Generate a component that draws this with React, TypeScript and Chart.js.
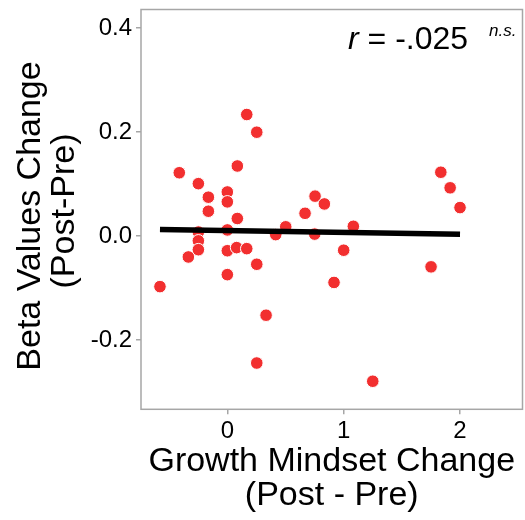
import React, { useEffect, useRef } from "react";
import { Chart, registerables } from "chart.js";

Chart.register(...registerables);

const mindsetChange: number[] = [
  0.167, 0.253, -0.413, 0.086, -0.249, -0.163, 0, 0, -0.163, 1.835, 1.915, 2.0,
  0.754, 0.834, 0.668, 0.086, 0, -0.249, -0.249, -0.249, -0.335, 0, 0.08, 0.167,
  0.253, 0, -0.579, 0.333, 0.253, 1.25, 0.502, 0.416, 0.751, 1.083, 1.0, 0.917, 1.751,
];
const betaChange: number[] = [
  0.234, 0.2, 0.122, 0.135, 0.101, 0.075, 0.085, 0.066, 0.048, 0.123, 0.093, 0.055,
  0.077, 0.062, 0.044, 0.034, 0.012, 0.008, -0.009, -0.026, -0.04, -0.028, -0.022, -0.024,
  -0.054, -0.074, -0.097, -0.152, -0.244, -0.279, 0.018, 0.003, 0.004, 0.019, -0.027, -0.089, -0.059,
];
const fitX: number[] = [-0.579, 2.0];
const fitY: number[] = [0.013, 0.0035];
const xTicks: number[] = [0, 1, 2];
const yTicks: number[] = [-0.2, 0.0, 0.2, 0.4];
const xTitle: string[] = ["Growth Mindset Change", "(Post - Pre)"];
const yTitle: string[] = ["Beta Values Change", "(Post-Pre)"];
const rLabel = "r";
const rValue = " = -.025";
const sigLabel = "n.s.";

const FONT = "'Liberation Sans', Arial, Helvetica, sans-serif";

export default function App() {
  const ref = useRef<HTMLCanvasElement | null>(null);
  useEffect(() => {
    if (!ref.current) return;
    const framePlugin = {
      id: "frame",
      afterDatasetsDraw(chart: any) {
        const { ctx, chartArea } = chart;
        ctx.save();
        ctx.strokeStyle = "#a6a6a6";
        ctx.lineWidth = 1.5;
        ctx.strokeRect(chartArea.left, chartArea.top, chartArea.right - chartArea.left, chartArea.bottom - chartArea.top);
        ctx.fillStyle = "#000";
        ctx.textBaseline = "alphabetic";
        ctx.textAlign = "left";
        ctx.font = `italic 32px ${FONT}`;
        const x0 = 348;
        ctx.fillText(rLabel, x0, 49);
        const rw = ctx.measureText(rLabel).width;
        ctx.font = `32px ${FONT}`;
        ctx.fillText(rValue, x0 + rw, 49);
        ctx.font = `italic 17px ${FONT}`;
        ctx.fillText(sigLabel, 489, 36);
        // y axis title (two lines, rotated)
        ctx.font = `34px ${FONT}`;
        ctx.textAlign = "center";
        ctx.textBaseline = "middle";
        const yCenters = [216, 211];
        const xCenters = [30.5, 64.5];
        yTitle.forEach((t, i) => {
          ctx.save();
          ctx.translate(xCenters[i], yCenters[i]);
          ctx.rotate(-Math.PI / 2);
          ctx.fillText(t, 0, 0);
          ctx.restore();
        });
        ctx.restore();
      },
    };
    const chart = new Chart(ref.current, {
      type: "scatter",
      data: {
        datasets: [
          {
            type: "line",
            data: fitX.map((x, i) => ({ x, y: fitY[i] })),
            borderColor: "#000",
            borderWidth: 5.5,
            pointRadius: 0,
            fill: false,
            order: 0,
          } as any,
          {
            type: "scatter",
            data: mindsetChange.map((x, i) => ({ x, y: betaChange[i] })),
            backgroundColor: "#f22f2f",
            borderColor: "#ffffff",
            borderWidth: 1,
            pointRadius: 6.3,
            order: 1,
          },
        ],
      },
      plugins: [framePlugin],
      options: {
        responsive: false,
        animation: false,
        events: [],
        layout: { autoPadding: false, padding: { top: 9.5, right: 2.5, left: 0, bottom: 0 } },
        plugins: { legend: { display: false }, tooltip: { enabled: false } },
        scales: {
          x: {
            type: "linear",
            min: -0.742,
            max: 2.537,
            afterBuildTicks: (s: any) => {
              s.ticks = xTicks.map((v) => ({ value: v }));
            },
            afterFit: (s: any) => {
              s.height = 110.7;
              s.paddingLeft = 0;
              s.paddingRight = 0;
            },
            grid: { drawOnChartArea: false, drawTicks: true, tickLength: 5, color: "#a6a6a6", lineWidth: 1.5 },
            border: { display: false },
            ticks: {
              padding: 3,
              color: "#000",
              font: { family: FONT, size: 24 },
              callback: (v: any) => String(v),
              maxRotation: 0,
            },
            title: {
              display: true,
              text: xTitle,
              color: "#000",
              font: { family: FONT, size: 34, lineHeight: 1.0 },
              padding: { top: 0, bottom: 7 },
            },
          },
          y: {
            type: "linear",
            min: -0.333,
            max: 0.436,
            afterBuildTicks: (s: any) => {
              s.ticks = yTicks.map((v) => ({ value: v }));
            },
            afterFit: (s: any) => {
              s.width = 141;
              s.paddingTop = 0;
              s.paddingBottom = 0;
            },
            grid: { drawOnChartArea: false, drawTicks: true, tickLength: 5, color: "#a6a6a6", lineWidth: 1.5 },
            border: { display: false },
            ticks: {
              padding: 4,
              color: "#000",
              font: { family: FONT, size: 24 },
              callback: (v: any) => Number(v).toFixed(1),
            },
            title: { display: false },
          },
        },
      },
    });
    return () => chart.destroy();
  }, []);
  return (
    <div style={{ position: "fixed", left: 0, top: 0, width: 525, height: 520, background: "#fff" }}>
      <canvas ref={ref} width={525} height={520} />
    </div>
  );
}
